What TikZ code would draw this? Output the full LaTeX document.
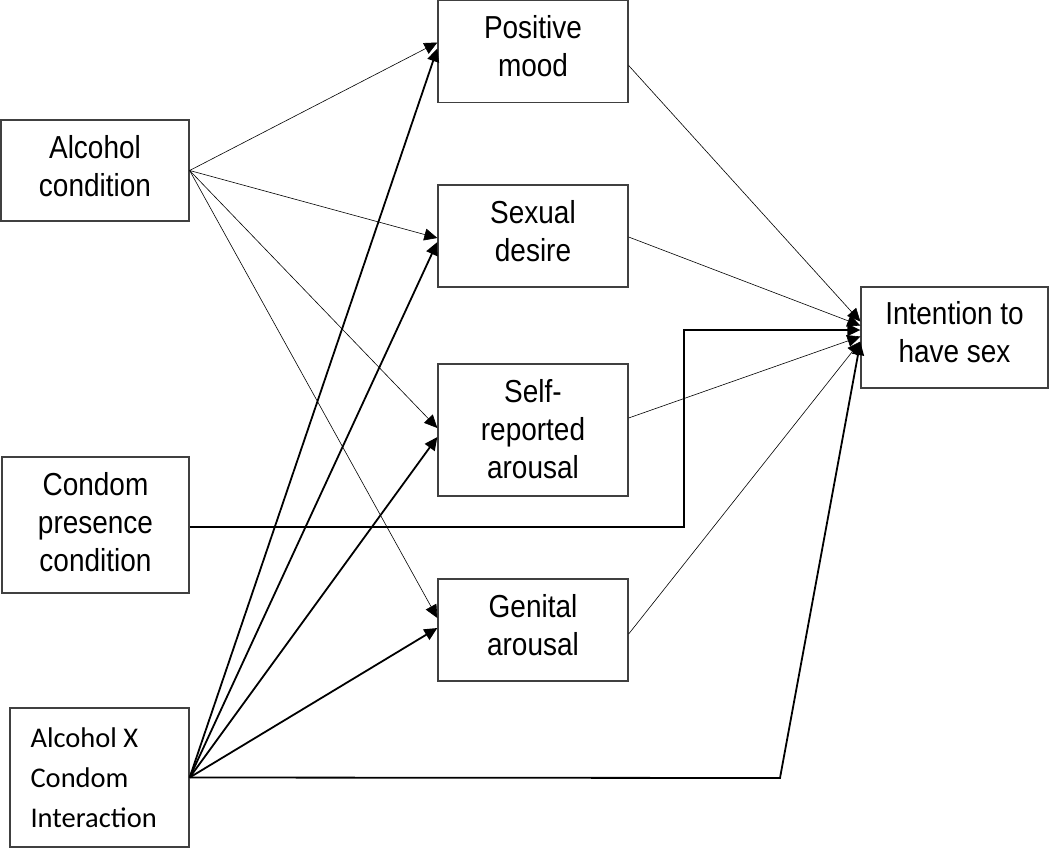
\documentclass[tikz,border=0pt]{standalone}
\usepackage{fontspec}
\setmainfont{Liberation Sans}[FakeStretch=0.88]
\newfontfamily\calfont{Carlito}
\usetikzlibrary{arrows.meta,calc}
\begin{document}
\begin{tikzpicture}[x=1pt,y=-1pt,
  box/.style={draw=black!75,line width=1.3pt,rectangle,inner sep=0pt,minimum width=190pt},
  txt/.style={inner sep=0pt,align=center,font=\fontsize{31.8}{38}\selectfont},
  thin/.style={draw=black,line width=0.6pt,-{Triangle[length=13pt,width=12pt]}},
  thick/.style={draw=black,line width=1.8pt,-{Triangle[length=13pt,width=12pt]}}]
\useasboundingbox (0,0) rectangle (1050,849);
% left column
\node[box,minimum width=188pt,minimum height=101pt] (ac) at (95,170.5) {};
\node[txt] (act) at ($(ac)+(0,-4.5)$) {Alcohol\\condition};
\node[box,minimum width=187pt,minimum height=136pt] (cp) at (95.5,525) {};
\node[txt] (cpt) at ($(cp)+(0,-3)$) {Condom\\presence\\condition};
\node[box,minimum width=179pt,minimum height=139pt] (ix) at (99.5,777.5) {};
\node[inner sep=0pt,align=left,anchor=west,font=\calfont\fontsize{28.5}{40}\selectfont]
  (ixt) at ($(ix.west)+(21,0)$) {Alcohol X\\Condom\\Interaction};
% middle column
\node[box,minimum height=102pt] (pm) at (533,51.5) {};
\node[txt] (pmt) at ($(pm)+(0,-5)$) {Positive\\mood};
\node[box,minimum height=102pt] (sd) at (533,236) {};
\node[txt] (sdt) at ($(sd)+(0,-5)$) {Sexual\\desire};
\node[box,minimum height=132pt] (sr) at (533,430) {};
\node[txt] (srt) at ($(sr)+(0,-1)$) {Self-\\reported\\arousal};
\node[box,minimum height=102pt] (ga) at (533,630) {};
\node[txt] (gat) at ($(ga)+(0,-5)$) {Genital\\arousal};
% outcome
\node[box,minimum width=187pt,minimum height=101pt] (it) at (954.5,337.5) {};
\node[txt] (itt) at ($(it)+(0,-5)$) {Intention to\\have sex};
% alcohol paths
\draw[thin] (ac.east) -- ($(pm.west)+(0,-9)$);
\draw[thin] (ac.east) -- ($(sd.west)+(0,2)$);
\draw[thin] (ac.east) -- ($(sr.west)+(0,-2)$);
\draw[thin] (ac.east) -- ($(ga.west)+(0,-12)$);
% interaction paths
\draw[thick] (ix.east) -- ($(pm.west)+(0,-3)$);
\draw[thick] (ix.east) -- ($(sd.west)+(0,6)$);
\draw[thick] (ix.east) -- ($(sr.west)+(0,7)$);
\draw[thick] (ix.east) -- ($(ga.west)+(0,-2)$);
\coordinate (ixc) at (780,778);
\draw[thick] (ix.east) -- (ixc) -- ($(it.west)+(0,4.5)$);
% condom path
\coordinate (cpa) at (684,527);
\coordinate (cpb) at (684,330);
\draw[thick,line width=1.6pt] ($(cp.east)+(0,2)$) -- (cpa) -- (cpb) -- ($(it.west)+(0,-7.5)$);
% mediator paths
\draw[thin] ($(pm.east)+(0,14)$) -- ($(it.west)+(0,-16)$);
\draw[thin] ($(sd.east)+(0,1)$) -- ($(it.west)+(0,-12)$);
\draw[thin] ($(sr.east)+(0,-12)$) -- ($(it.west)+(0,-1)$);
\draw[thin] ($(ga.east)+(0,4)$) -- ($(it.west)+(0,4)$);
\end{tikzpicture}
\end{document}
